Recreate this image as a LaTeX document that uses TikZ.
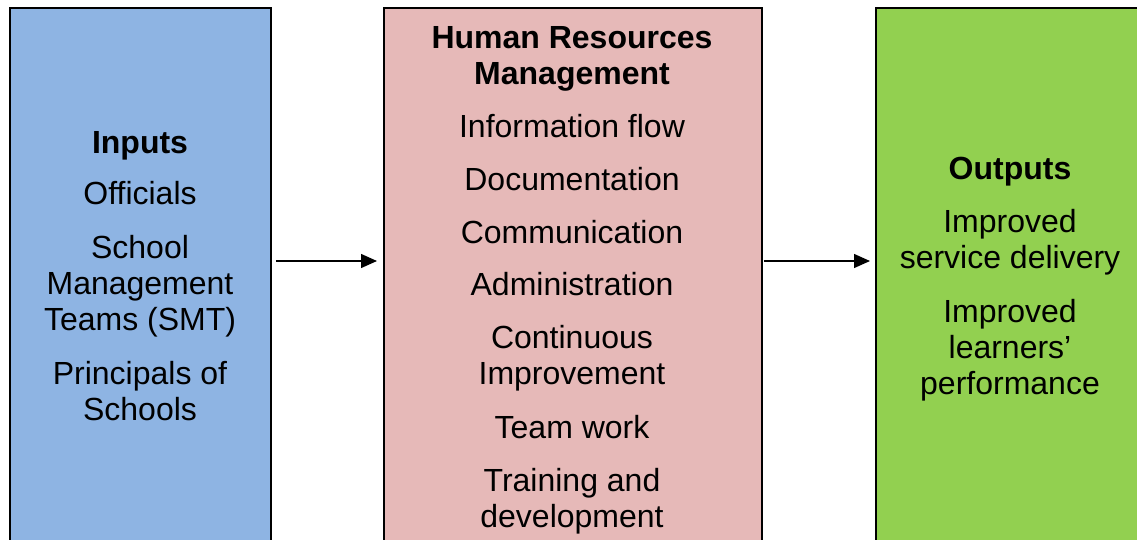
\documentclass[tikz,border=0pt]{standalone}
\usepackage{fontspec}
\setmainfont{Liberation Sans}
\usetikzlibrary{arrows.meta}
\definecolor{inblue}{HTML}{8EB4E3}
\definecolor{hrpink}{HTML}{E6B9B8}
\definecolor{outgreen}{HTML}{92D050}
\tikzset{
  panel/.style={draw=black, line width=1.8pt, anchor=north west, inner sep=0pt, minimum height=560pt},
  txt/.style={anchor=base, inner sep=0pt, font=\fontsize{32}{36}\selectfont},
  head/.style={txt, font=\fontsize{32}{36}\selectfont\bfseries},
  flow/.style={line width=1.3pt, -{Triangle[length=16pt,width=14pt]}}
}
\begin{document}
\begin{tikzpicture}[x=1pt,y=-1pt]
\useasboundingbox (0,0) rectangle (1137,540);
\clip (0,0) rectangle (1137,540);
\node[panel, fill=inblue, minimum width=261pt] (inbox) at (9,7) {};
\node[panel, fill=hrpink, minimum width=378pt] (hrm) at (383,7) {};
\node[panel, fill=outgreen, minimum width=280pt] (outbox) at (875,7) {};
% Inputs
\node[head] (i0) at (140,153.5) {Inputs};
\node[txt] (i1) at (140,204.5) {Officials};
\node[txt] (i2) at (140,258.5) {School};
\node[txt] (i3) at (140,294.5) {Management};
\node[txt] (i4) at (140,330.5) {Teams (SMT)};
\node[txt] (i5) at (140,384.5) {Principals of};
\node[txt] (i6) at (140,420.5) {Schools};
% HRM
\node[head] (h0) at (572,48.5) {Human Resources};
\node[head] (h1) at (572,84.5) {Management};
\node[txt] (h2) at (572,137.5) {Information flow};
\node[txt] (h3) at (572,190.5) {Documentation};
\node[txt] (h4) at (572,243.5) {Communication};
\node[txt] (h5) at (572,295.5) {Administration};
\node[txt] (h6) at (572,348.5) {Continuous};
\node[txt] (h7) at (572,384.5) {Improvement};
\node[txt] (h8) at (572,438.5) {Team work};
\node[txt] (h9) at (572,491.5) {Training and};
\node[txt] (h10) at (572,527.5) {development};
% Outputs
\node[head] (o0) at (1010,179.5) {Outputs};
\node[txt] (o1) at (1010,232.5) {Improved};
\node[txt] (o2) at (1010,268.5) {service delivery};
\node[txt] (o3) at (1010,322.5) {Improved};
\node[txt] (o4) at (1010,358.5) {learners’};
\node[txt] (o5) at (1010,394.5) {performance};
% arrows
\coordinate (ay) at (0,261);
\draw[flow] ([xshift=4pt]inbox.east |- ay) -- ([xshift=-6pt]hrm.west |- ay);
\draw[flow] ([xshift=1pt]hrm.east |- ay) -- ([xshift=-5pt]outbox.west |- ay);
\end{tikzpicture}
\end{document}
